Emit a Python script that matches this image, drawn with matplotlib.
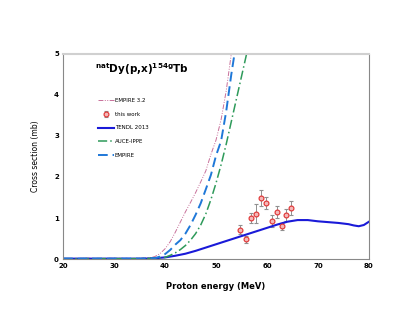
import matplotlib
matplotlib.use('Agg')
import matplotlib.pyplot as plt
import numpy as np

# EMPIRE 3.2
e_emp32 = [20, 23, 25, 27, 30, 33, 35, 37, 38, 39, 40, 41, 42, 43, 44, 45, 46, 47, 48, 49, 50, 51, 52, 53, 54]
s_emp32 = [0.0, 0.01, 0.02, 0.01, 0.02, 0.01, 0.02, 0.03, 0.06, 0.13, 0.25, 0.42, 0.65, 0.9, 1.15, 1.38, 1.62, 1.88, 2.15, 2.55, 2.9, 3.4, 4.1, 5.0, 6.0]

# EMPIRE
e_emp = [20, 25, 30, 35, 38, 39, 40, 41, 42, 43, 44, 45, 46, 47, 48, 49, 50, 51, 52, 53, 54]
s_emp = [0.01, 0.01, 0.01, 0.01, 0.02, 0.06, 0.12, 0.22, 0.35, 0.46, 0.62, 0.83, 1.08, 1.36, 1.7, 2.05, 2.52, 2.88, 3.6, 4.5, 5.3]

# AUCE-IPPE
e_auce = [20, 25, 30, 35, 38, 40, 41, 42, 43, 44, 45, 46, 47, 48, 49, 50, 51, 52, 53, 54, 55, 56, 57]
s_auce = [0.01, 0.01, 0.01, 0.01, 0.02, 0.04, 0.09, 0.15, 0.23, 0.33, 0.46, 0.62, 0.83, 1.1, 1.45, 1.85, 2.3, 2.8, 3.35, 3.9, 4.45, 5.0, 5.6]

# TENDL 2013
e_tendl = [20, 30, 36, 38, 40, 42, 44, 46, 48, 50, 52, 54, 56, 58, 60, 62, 64, 66, 68, 70, 72, 74, 76, 77, 78, 79, 80]
s_tendl = [0.01, 0.01, 0.01, 0.02, 0.04, 0.08, 0.13, 0.2, 0.28, 0.36, 0.44, 0.52, 0.6, 0.68, 0.76, 0.84, 0.91, 0.95, 0.95, 0.92, 0.9, 0.88, 0.85, 0.82, 0.8, 0.83, 0.91]

# this work
e_exp = [54.8, 55.8, 56.8, 57.8, 58.9, 59.9, 60.9, 61.9, 62.9, 63.8, 64.8]
s_exp = [0.72, 0.48, 1.0, 1.11, 1.49, 1.37, 0.93, 1.14, 0.80, 1.07, 1.25]
err_exp = [0.12, 0.08, 0.13, 0.22, 0.19, 0.14, 0.14, 0.15, 0.09, 0.14, 0.17]

fig = plt.figure(figsize=(4.15, 3.21), dpi=100)
ax = fig.add_axes([0.152, 0.193, 0.737, 0.639])

h1, = ax.plot(e_emp32, s_emp32, color='#c8709a', lw=0.7, dashes=[5, 1.5, 1, 1.5, 1, 1.5], label='EMPIRE 3.2')
h2 = ax.errorbar(e_exp, s_exp, yerr=err_exp, fmt='o', ms=3.5, mfc='#f4b8b8', mec='#e03030', mew=0.8,
                 ecolor='#909090', elinewidth=0.7, capsize=1.5, capthick=0.7, label='this work')
h3, = ax.plot(e_tendl, s_tendl, color='#1a1ad8', lw=1.5, label='TENDL 2013')
h4, = ax.plot(e_auce, s_auce, color='#2e9a5a', lw=1.1, dashes=[6, 2, 1, 2], label='AUCE-IPPE')
h5, = ax.plot(e_emp, s_emp, color='#1f78d8', lw=1.4, dashes=[5, 2.5], label='EMPIRE')

ax.set_xlim(20, 80)
ax.set_ylim(0, 5)
ax.set_xticks(range(20, 81, 10))
ax.set_yticks(range(0, 6))
ax.tick_params(labelsize=5, length=0, pad=3)
for t in ax.get_xticklabels() + ax.get_yticklabels():
    t.set_fontweight('bold')

for s in ['left', 'bottom', 'right']:
    ax.spines[s].set_color('#888888')
    ax.spines[s].set_linewidth(0.8)
ax.spines['top'].set_color('#d0d0d0')
ax.spines['top'].set_linewidth(1.5)

ax.set_xlabel('Proton energy (MeV)', fontsize=6, fontweight='bold', labelpad=9)
ax.set_ylabel('Cross section (mb)', fontsize=5.5, labelpad=10)

ax.text(0.257, 0.927, r'$^{\mathbf{nat}}$Dy(p,x)$^{\mathbf{154g}}$Tb', transform=ax.transAxes,
        ha='center', va='center', fontsize=7.5, fontweight='bold')

ax.legend(handles=[h1, h2, h3, h4, h5], loc='upper left', bbox_to_anchor=(0.114, 0.784), frameon=False,
          fontsize=4, borderpad=0, borderaxespad=0, handlelength=2.8, handletextpad=0.2, labelspacing=1.55)

plt.savefig('out.png', dpi=100)
